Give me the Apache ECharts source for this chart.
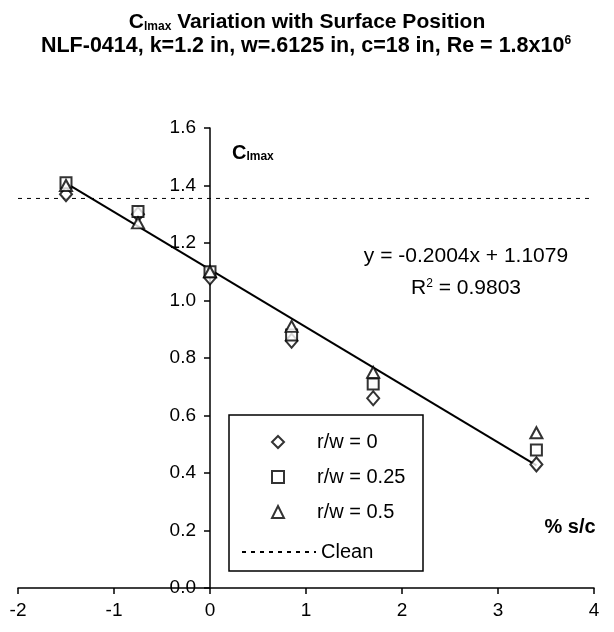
<!DOCTYPE html>
<html>
<head>
<meta charset="utf-8">
<script src="https://cdn.jsdelivr.net/npm/echarts@6/dist/echarts.min.js"></script>
<style>html,body{margin:0;padding:0;background:#fff}#c{width:614px;height:632px}</style>
</head>
<body>
<div id="c"></div>
<script>
// ---- data ----
const xPositions = [-1.5, -0.75, 0, 0.85, 1.7, 3.4];
const rw0   = [1.37, 1.30, 1.08, 0.86, 0.66, 0.43];
const rw025 = [1.41, 1.31, 1.10, 0.88, 0.71, 0.48];
const rw05  = [1.40, 1.27, 1.10, 0.91, 0.75, 0.54];
const cleanValue = 1.355;
const trendSlope = -0.2004;
const trendIntercept = 1.1079;
const rSquared = 0.9803;
const seriesNames = ['r/w = 0', 'r/w = 0.25', 'r/w = 0.5'];
const xTicks = [-2, -1, 0, 1, 2, 3, 4];
const yTicks = [0, 0.2, 0.4, 0.6, 0.8, 1.0, 1.2, 1.4, 1.6];

const FONT = '"Liberation Sans", Arial, sans-serif';
const W = 614, H = 632;
const GRID = {left: 18, right: 20, top: 128, bottom: 44};
const pair = (xs, ys) => xs.map((x, i) => [x, ys[i]]);
const xMinA = xTicks[0], xMaxA = xTicks[xTicks.length - 1];
const xMinD = Math.min(...xPositions), xMaxD = Math.max(...xPositions);
const trendData = [xMinD, xMaxD].map(x => [x, trendSlope * x + trendIntercept]);
const cleanData = [xMinA, xMaxA].map(x => [x, cleanValue]);
// shift the y axis so it crosses the x axis at x = 0
const plotW = W - GRID.left - GRID.right;
const yAxisOffset = -((0 - xMinA) / (xMaxA - xMinA)) * plotW;

const chart = echarts.init(document.getElementById('c'), null, {renderer: 'canvas'});
const markerStyle = {color: '#000', borderColor: '#000', borderWidth: 2};

chart.setOption({
  backgroundColor: '#fff',
  animation: false,
  textStyle: {fontFamily: FONT},
  grid: Object.assign({containLabel: false, outerBoundsMode: 'none'}, GRID),
  xAxis: {
    type: 'value', min: xMinA, max: xMaxA, interval: 1,
    splitLine: {show: false},
    axisLine: {onZero: false, lineStyle: {color: '#000', width: 1.5}},
    axisTick: {show: true, length: 6, lineStyle: {color: '#000', width: 1.5}},
    axisLabel: {color: '#000', fontSize: 19, fontFamily: FONT, margin: 13}
  },
  yAxis: {
    type: 'value', min: yTicks[0], max: yTicks[yTicks.length - 1], interval: 0.2,
    position: 'left', offset: yAxisOffset,
    splitLine: {show: false},
    axisLine: {onZero: false, lineStyle: {color: '#000', width: 1.5}},
    axisTick: {show: true, length: 6, lineStyle: {color: '#000', width: 1.5}},
    axisLabel: {color: '#000', fontSize: 19, fontFamily: FONT, margin: 14,
      formatter: v => v.toFixed(1)}
  },
  legend: [
    {
      data: seriesNames, orient: 'vertical', left: 266, top: 427,
      itemWidth: 12, itemHeight: 12, itemGap: 15,
      textStyle: {fontSize: 20, color: '#000', fontFamily: FONT, padding: [0, 0, 0, 28]},
      selectedMode: false
    },
    {
      data: ['Clean'], orient: 'vertical', left: 236, top: 537,
      itemWidth: 74, itemHeight: 12,
      itemStyle: {color: 'transparent', borderWidth: 0},
      textStyle: {fontSize: 20, color: '#000', fontFamily: FONT},
      selectedMode: false
    }
  ],
  series: [
    {name: seriesNames[0], type: 'scatter', symbol: 'emptyDiamond', symbolSize: [12, 14],
     itemStyle: markerStyle, data: pair(xPositions, rw0), z: 5},
    {name: seriesNames[1], type: 'scatter', symbol: 'emptyRect', symbolSize: 11,
     itemStyle: markerStyle, data: pair(xPositions, rw025), z: 5},
    {name: seriesNames[2], type: 'scatter', symbol: 'emptyTriangle', symbolSize: [12, 11],
     itemStyle: markerStyle, data: pair(xPositions, rw05), z: 5},
    {name: 'Trend', type: 'line', data: trendData, symbol: 'none',
     lineStyle: {color: '#000', width: 2}, z: 3},
    {name: 'Clean', type: 'line', data: cleanData, symbol: 'none',
     itemStyle: {color: '#000'},
     lineStyle: {color: '#000', width: 1, type: [4, 5]}, z: 2}
  ],
  graphic: [
    {type: 'rect', z: 1, shape: {x: 229, y: 415, width: 194, height: 156},
     style: {fill: '#fff', stroke: '#000', lineWidth: 1.5}},
    {type: 'text', z: 10, style: {
      x: 307, y: 20, align: 'center', verticalAlign: 'middle',
      text: '{b|C}{s|lmax}{b| Variation with Surface Position}',
      rich: {
        b: {fontSize: 21, fontWeight: 'bold', fontFamily: FONT, fill: '#000', lineHeight: 26, verticalAlign: 'bottom'},
        s: {fontSize: 12, fontWeight: 'bold', fontFamily: FONT, fill: '#000', lineHeight: 15, verticalAlign: 'bottom'}
      }}},
    {type: 'text', z: 10, style: {
      x: 306, y: 48, align: 'center', verticalAlign: 'middle',
      text: '{b|NLF-0414, k=1.2 in, w=.6125 in, c=18 in, Re = 1.8x10}{p|6}',
      rich: {
        b: {fontSize: 21.5, fontWeight: 'bold', fontFamily: FONT, fill: '#000', lineHeight: 26, verticalAlign: 'top'},
        p: {fontSize: 12, fontWeight: 'bold', fontFamily: FONT, fill: '#000', lineHeight: 14, verticalAlign: 'top'}
      }}},
    {type: 'text', z: 10, style: {
      x: 232, y: 150, align: 'left', verticalAlign: 'middle',
      text: '{b|C}{s|lmax}',
      rich: {
        b: {fontSize: 20, fontWeight: 'bold', fontFamily: FONT, fill: '#000', lineHeight: 26, verticalAlign: 'bottom'},
        s: {fontSize: 12, fontWeight: 'bold', fontFamily: FONT, fill: '#000', lineHeight: 14, verticalAlign: 'bottom'}
      }}},
    {type: 'text', z: 10, style: {
      x: 570, y: 527, align: 'center', verticalAlign: 'middle',
      text: '% s/c', fontSize: 20, fontWeight: 'bold', fontFamily: FONT, fill: '#000'}},
    {type: 'text', z: 10, style: {
      x: 466, y: 256, align: 'center', verticalAlign: 'middle',
      text: 'y = ' + trendSlope.toFixed(4) + 'x + ' + trendIntercept.toFixed(4),
      fontSize: 21, fontFamily: FONT, fill: '#000'}},
    {type: 'text', z: 10, style: {
      x: 466, y: 290, align: 'center', verticalAlign: 'middle',
      text: '{n|R}{p|2}{n| = ' + rSquared.toFixed(4) + '}',
      rich: {
        n: {fontSize: 21, fontFamily: FONT, fill: '#000', lineHeight: 24, verticalAlign: 'top'},
        p: {fontSize: 12, fontFamily: FONT, fill: '#000', lineHeight: 13, verticalAlign: 'top'}
      }}}
  ]
});
</script>
</body>
</html>
